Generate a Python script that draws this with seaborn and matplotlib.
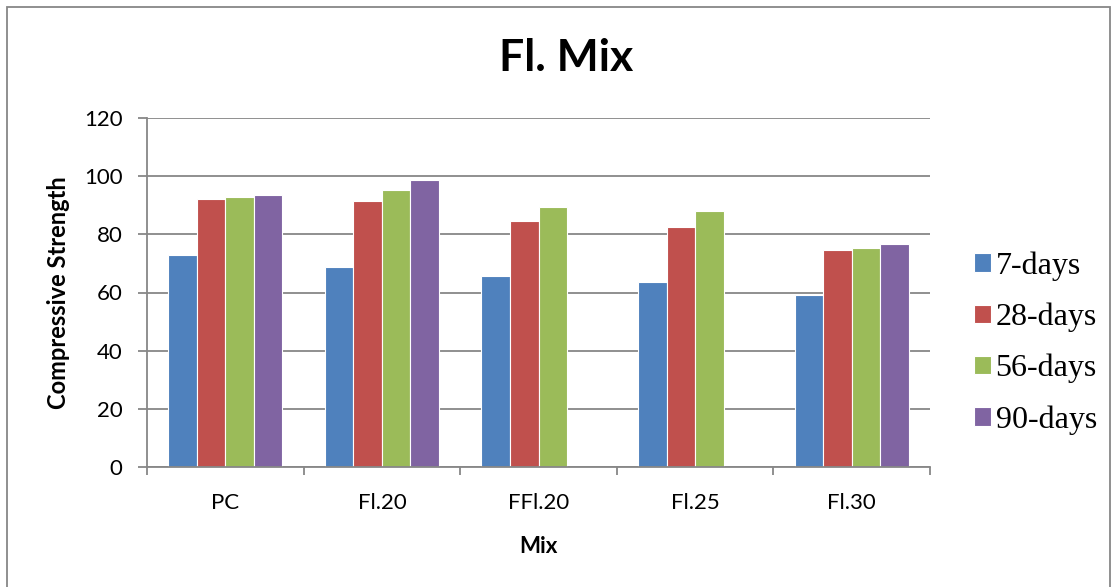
import numpy as np
import pandas as pd
import seaborn as sns
import matplotlib.pyplot as plt
from matplotlib.patches import Rectangle
from matplotlib.ticker import FixedLocator

mixes = ["PC", "Fl.20", "FFl.20", "Fl.25", "Fl.30"]
ages = ["7-days", "28-days", "56-days", "90-days"]
strength_7 = [72.8, 68.7, 65.6, 63.5, 59.1]
strength_28 = [92.1, 91.5, 84.5, 82.6, 74.5]
strength_56 = [92.8, 95.1, 89.5, 88.0, 75.2]
strength_90 = [93.5, 98.7, np.nan, np.nan, 76.8]
colors = ["#4F81BD", "#C0504D", "#9BBB59", "#8064A2"]

rows = []
for age, vals in zip(ages, [strength_7, strength_28, strength_56, strength_90]):
    for mix, v in zip(mixes, vals):
        rows.append({"Mix": mix, "Age": age, "Strength": v})
df = pd.DataFrame(rows)

sns.set_theme(style="white")
plt.rcParams["font.family"] = ["Lato", "DejaVu Sans"]
plt.rcParams["text.color"] = "black"
plt.rcParams["axes.labelcolor"] = "black"

fig = plt.figure(figsize=(11.17, 5.87), dpi=100)
ax = fig.add_axes([147 / 1117, 1 - 467 / 587, (930 - 147) / 1117, (467 - 118) / 587])

sns.barplot(data=df, x="Mix", y="Strength", hue="Age", hue_order=ages,
            order=mixes, palette=colors, saturation=1, width=0.73, gap=0,
            edgecolor="white", linewidth=0.8, ax=ax, legend=True)

ax.set_ylim(0, 120)
ax.set_xlim(-0.5, len(mixes) - 0.5)
ax.set_yticks(range(0, 121, 20))
ax.yaxis.grid(True, color="#878787", linewidth=1.3)
ax.set_axisbelow(True)
for side in ["top", "right"]:
    ax.spines[side].set_visible(False)
for side in ["left", "bottom"]:
    ax.spines[side].set_color("#878787")
    ax.spines[side].set_linewidth(1.3)

ax.tick_params(axis="y", which="major", length=6.5, width=1.3, color="#878787",
               labelsize=16, labelcolor="black", pad=11, left=True)
ax.tick_params(axis="x", which="major", length=0, labelsize=16,
               labelcolor="black", pad=19)
ax.xaxis.set_minor_locator(FixedLocator(np.arange(-0.5, len(mixes), 1.0)))
ax.tick_params(axis="x", which="minor", length=6, width=1.3, color="#878787",
               bottom=True)

ax.set_xlabel("Mix", fontsize=16, fontweight="bold", labelpad=16)
ax.set_ylabel("Compressive Strength", fontsize=17, fontweight="bold", labelpad=10)
fig.text(566 / 1117, 1 - 58 / 587, "Fl. Mix", fontsize=32, fontweight="bold",
         ha="center", va="center")

handles, labels = ax.get_legend_handles_labels()
ax.legend(handles, labels, loc="center left", bbox_to_anchor=(1.04, 0.355),
          frameon=False, prop={"family": "Liberation Serif", "size": 23},
          handlelength=0.52, handleheight=0.52, handletextpad=0.15,
          labelspacing=0.68, borderaxespad=0)

fig.patches.append(Rectangle((7 / 1117, -0.05), (1110 - 7) / 1117, 1 - 7 / 587 + 0.05,
                             transform=fig.transFigure, fill=False,
                             edgecolor="#878787", linewidth=1.3))

fig.savefig("out.png", dpi=100)
